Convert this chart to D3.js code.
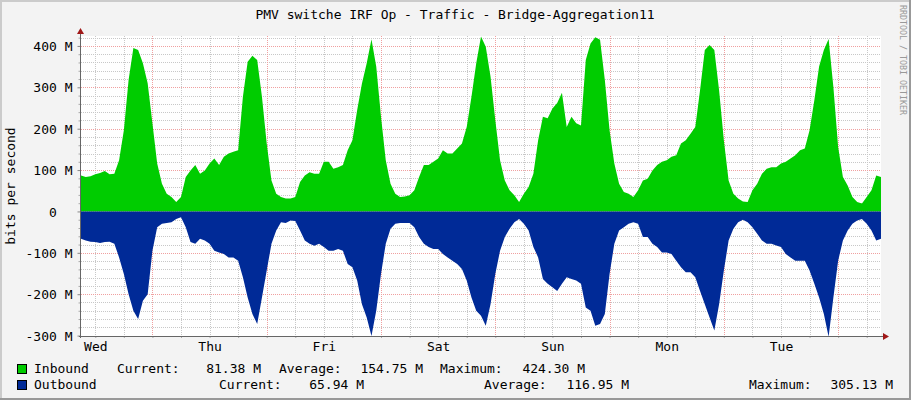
<!DOCTYPE html>
<html>
<head>
<meta charset="utf-8">
<script src="https://cdn.jsdelivr.net/npm/d3@7"></script>
<style>
  body { margin: 0; background: #f3f3f3; }
  svg text { font-family: "DejaVu Sans Mono", monospace; font-size: 13px; fill: #000; white-space: pre; }
</style>
</head>
<body>
<svg id="chart" width="911" height="400"></svg>
<script>
const title = "PMV switche IRF Op - Traffic - Bridge-Aggregation11";
const yTitle = "bits per second";
const startTime = Date.UTC(2024, 0, 3, 9, 0); // Wed, hourly samples
// bits per second, in M, one value per hour
const inbound = [
  87, 83, 85, 90, 93, 98, 90, 91, 124, 196,
  318, 395, 390, 358, 310, 213, 116, 67, 43, 35,
  23, 35, 83, 99, 112, 91, 99, 116, 128, 112,
  132, 140, 144, 148, 277, 362, 376, 366, 277, 164,
  75, 43, 35, 31, 31, 35, 71, 87, 95, 91,
  91, 120, 120, 103, 107, 112, 148, 172, 245, 309,
  358, 416, 350, 229, 124, 67, 43, 35, 36, 39,
  51, 83, 112, 112, 120, 128, 148, 140, 140, 152,
  164, 204, 277, 358, 423, 398, 326, 221, 124, 75,
  51, 39, 23, 43, 59, 91, 172, 229, 225, 249,
  262, 287, 204, 229, 213, 208, 366, 406, 421, 415,
  318, 196, 116, 67, 47, 43, 35, 51, 75, 79,
  99, 112, 120, 124, 132, 136, 164, 172, 188, 204,
  293, 390, 402, 390, 293, 172, 75, 43, 31, 24,
  23, 51, 67, 91, 103, 107, 107, 116, 120, 128,
  136, 148, 152, 196, 269, 350, 390, 417, 301, 156,
  83, 63, 35, 23, 19, 35, 51, 87, 83
];
const outbound = [
  66, 70, 73, 74, 76, 74, 73, 78, 111, 151,
  200, 240, 260, 216, 200, 95, 38, 30, 28, 26,
  18, 14, 38, 74, 78, 66, 70, 78, 95, 99,
  103, 111, 111, 119, 159, 208, 248, 272, 208, 143,
  78, 46, 26, 28, 22, 23, 46, 70, 78, 83,
  78, 86, 95, 95, 91, 95, 127, 135, 167, 224,
  256, 301, 240, 151, 78, 42, 30, 28, 28, 28,
  38, 62, 78, 86, 91, 91, 103, 111, 119, 127,
  139, 167, 208, 240, 252, 276, 224, 151, 95, 62,
  42, 26, 18, 30, 46, 86, 111, 163, 175, 183,
  192, 175, 159, 163, 167, 175, 232, 240, 276, 272,
  248, 151, 78, 46, 38, 30, 26, 30, 62, 62,
  78, 86, 99, 99, 103, 119, 135, 147, 147, 159,
  192, 224, 256, 288, 224, 143, 70, 42, 26, 20,
  26, 38, 54, 70, 78, 78, 82, 86, 103, 111,
  119, 119, 119, 143, 175, 208, 248, 303, 208, 119,
  70, 46, 30, 22, 18, 30, 46, 70, 66
];
const yTicks = [-300, -200, -100, 0, 100, 200, 300, 400];
const yTickLabels = ["-300 M", "-200 M", "-100 M", "0  ", "100 M", "200 M", "300 M", "400 M"];
const seriesNames = ["Inbound", "Outbound"];
const seriesColors = ["#00cc00", "#002a97"];
const currentVals = ["81.38 M", "65.94 M"];
const averageVals = ["154.75 M", "116.95 M"];
const maximumVals = ["424.30 M", "305.13 M"];

const W = 911, H = 400;
const pL = 81, pR = 881, pT = 36, pB = 336;

const svg = d3.select("#chart");

// frame
svg.append("rect").attr("width", W).attr("height", H).attr("fill", "#f3f3f3");
svg.append("path").attr("d", `M0,${H}V0H${W}`).attr("fill", "none").attr("stroke", "#cbcbcb").attr("stroke-width", 4);
svg.append("path").attr("d", `M0,${H}H${W}V0`).attr("fill", "none").attr("stroke", "#999").attr("stroke-width", 4);

const hours = inbound.map((d, i) => new Date(startTime + i * 3600e3));
const t0 = hours[0], t1 = hours[hours.length - 1];
const x = d3.scaleUtc().domain([t0, t1]).range([pL, pR]);
const y = d3.scaleLinear().domain([-301, 424]).range([pB, pT]);

svg.append("rect").attr("x", pL).attr("y", pT).attr("width", pR - pL).attr("height", pB - pT).attr("fill", "#fff");

// grid
const grid = svg.append("g").attr("shape-rendering", "crispEdges");
const minorY = d3.range(-300, 424, 20);
grid.selectAll(".hmin").data(minorY.filter(v => v % 100 !== 0)).enter().append("line")
  .attr("x1", pL).attr("x2", pR).attr("y1", d => Math.round(y(d)) + 0.5).attr("y2", d => Math.round(y(d)) + 0.5)
  .attr("stroke", "#c8c8c8").attr("stroke-dasharray", "1,1");
const minorX = x.ticks(d3.utcHour.every(6));
const majorX = x.ticks(d3.utcDay.every(1));
grid.selectAll(".vmin").data(minorX.filter(d => d.getUTCHours() !== 0)).enter().append("line")
  .attr("y1", pT).attr("y2", pB).attr("x1", d => Math.round(x(d)) + 0.5).attr("x2", d => Math.round(x(d)) + 0.5)
  .attr("stroke", "#c8c8c8").attr("stroke-dasharray", "1,1");
grid.selectAll(".hmaj").data(yTicks).enter().append("line")
  .attr("x1", pL).attr("x2", pR).attr("y1", d => Math.round(y(d)) + 0.5).attr("y2", d => Math.round(y(d)) + 0.5)
  .attr("stroke", "#f0a0a0").attr("stroke-dasharray", "1,1");
grid.selectAll(".vmaj").data(majorX).enter().append("line")
  .attr("y1", pT).attr("y2", pB).attr("x1", d => Math.round(x(d)) + 0.5).attr("x2", d => Math.round(x(d)) + 0.5)
  .attr("stroke", "#f0a0a0").attr("stroke-dasharray", "1,1");

// areas
const areaIn = d3.area().x((d, i) => x(hours[i])).y0(y(0)).y1(d => y(d));
const areaOut = d3.area().x((d, i) => x(hours[i])).y0(y(0)).y1(d => y(-d));
svg.append("path").datum(inbound).attr("d", areaIn).attr("fill", seriesColors[0]);
svg.append("path").datum(outbound).attr("d", areaOut).attr("fill", seriesColors[1]);

// y axis
const yAxis = d3.axisLeft(y).tickValues(yTicks).tickFormat((d, i) => yTickLabels[i]).tickSize(3).tickPadding(5);
const gy = svg.append("g").attr("transform", `translate(${pL - 0.5},0)`).call(yAxis);
gy.select(".domain").remove();
gy.selectAll(".tick line").attr("stroke", "#888");
gy.selectAll("text").attr("dy", "0.36em");
const gyMinor = svg.append("g").attr("transform", `translate(${pL - 0.5},0)`)
  .call(d3.axisLeft(y).tickValues(minorY.filter(v => v % 100 !== 0)).tickSize(2).tickFormat(""));
gyMinor.select(".domain").remove();
gyMinor.selectAll(".tick line").attr("stroke", "#aaa");

// x axis: day names centred on midday
const noons = d3.utcDay.range(d3.utcDay.floor(t0), t1).map(d => d3.utcHour.offset(d, 12)).filter(d => d >= t0 && d <= t1);
const gx = svg.append("g").attr("transform", `translate(0,${pB})`)
  .call(d3.axisBottom(x).tickValues(noons).tickFormat(d3.utcFormat("%a")).tickSize(0).tickPadding(6));
gx.select(".domain").remove();
const gxMinor = svg.append("g").attr("transform", `translate(0,${pB})`)
  .call(d3.axisBottom(x).tickValues(minorX).tickSize(2).tickFormat(""));
gxMinor.select(".domain").remove();
gxMinor.selectAll(".tick line").attr("stroke", "#aaa");

// axis lines and arrows
svg.append("line").attr("x1", pL - 0.5).attr("x2", pL - 0.5).attr("y1", pB + 2).attr("y2", 31).attr("stroke", "#666");
svg.append("line").attr("x1", pL - 2).attr("x2", pR + 4).attr("y1", pB + 0.5).attr("y2", pB + 0.5).attr("stroke", "#666");
svg.append("path").attr("d", `M${pL - 4},${34}L${pL - 0.5},${28}L${pL + 3},${34}Z`).attr("fill", "#a01818");
svg.append("path").attr("d", `M${pR + 2},${pB - 3}L${pR + 8},${pB + 0.5}L${pR + 2},${pB + 4}Z`).attr("fill", "#a01818");

// titles
svg.append("text").attr("x", 455).attr("y", 19).attr("text-anchor", "middle").text(title);
svg.append("text").attr("transform", `translate(15,${(pT + pB) / 2}) rotate(-90)`).attr("text-anchor", "middle").text(yTitle);
svg.append("text").attr("transform", "translate(899.5,5) rotate(90)").style("font-size", "8.3px").style("fill", "#999")
  .text("RRDTOOL / TOBI OETIKER");

// legend
const rows = [
  { y: 373, cur: 117, curV: 261, avg: 279, avgV: 423, max: 440, maxV: 585 },
  { y: 389, cur: 219, curV: 364, avg: 484, avgV: 629, max: 749, maxV: 893 }
];
const leg = svg.append("g");
seriesNames.forEach((name, i) => {
  const r = rows[i];
  leg.append("rect").attr("x", 17.5).attr("y", r.y - 8.5).attr("width", 9).attr("height", 9)
    .attr("fill", seriesColors[i]).attr("stroke", "#000");
  leg.append("text").attr("x", 34).attr("y", r.y).text(name);
  leg.append("text").attr("x", r.cur).attr("y", r.y).text("Current:");
  leg.append("text").attr("x", r.curV).attr("y", r.y).attr("text-anchor", "end").text(currentVals[i]);
  leg.append("text").attr("x", r.avg).attr("y", r.y).text("Average:");
  leg.append("text").attr("x", r.avgV).attr("y", r.y).attr("text-anchor", "end").text(averageVals[i]);
  leg.append("text").attr("x", r.max).attr("y", r.y).text("Maximum:");
  leg.append("text").attr("x", r.maxV).attr("y", r.y).attr("text-anchor", "end").text(maximumVals[i]);
});
</script>
</body>
</html>
